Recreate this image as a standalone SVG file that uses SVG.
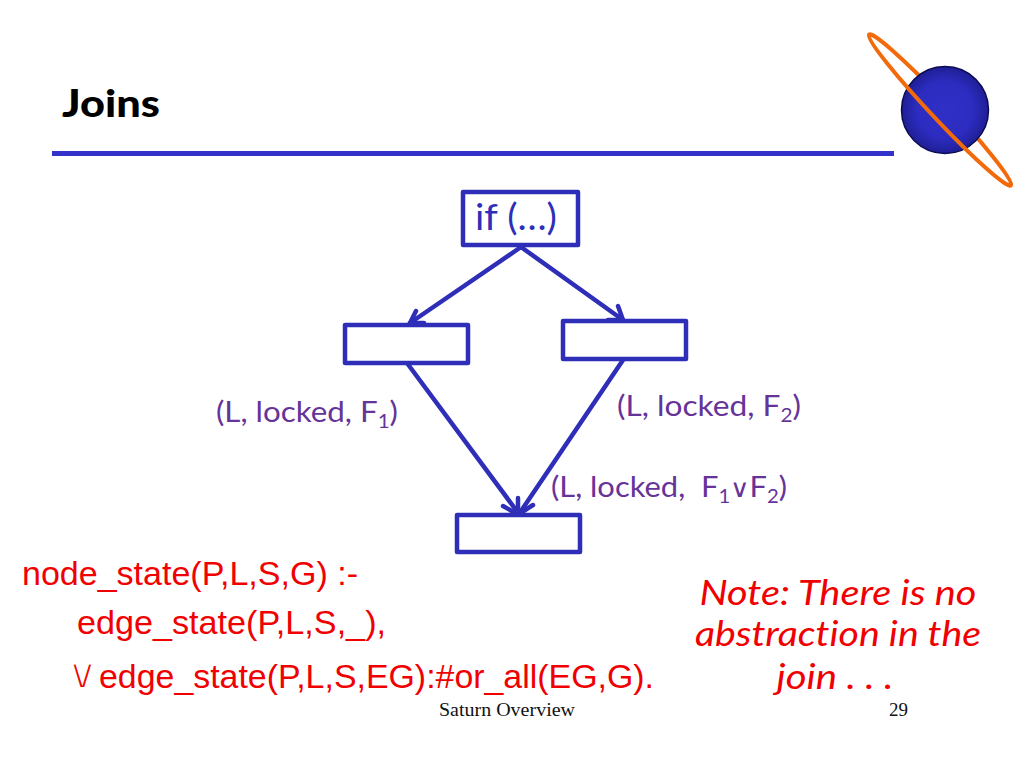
<svg xmlns="http://www.w3.org/2000/svg" width="1024" height="768" viewBox="0 0 1024 768">
<style>
.box{fill:#fff;stroke:#2e2eb8;stroke-width:4.5;stroke-linejoin:round}
.edge{fill:none;stroke:#2e2eb8;stroke-width:4.5;stroke-linecap:round;stroke-linejoin:round}
.ring{fill:none;stroke:#f26a0a;stroke-width:4}
.lab{font-family:"Lato","Open Sans",sans-serif;font-size:29px;fill:#663399;font-variant-ligatures:none}
.sub{font-size:19px}
.red{font-family:"Liberation Sans",Arial,sans-serif;font-size:33px;fill:#f00000}
.or{font-family:"DejaVu Sans",sans-serif;font-size:42px;stroke:#fff;stroke-width:1.8px}
.note{font-family:"Lato","Open Sans",sans-serif;font-style:italic;font-size:35px;fill:#f00000;text-anchor:middle;font-variant-ligatures:none}
.foot{font-family:"Liberation Serif","Times New Roman",serif;font-size:19px;fill:#111}
</style>
<defs>
<radialGradient id="pl" cx="50%" cy="50%" r="50%">
<stop offset="0" stop-color="#3030c8"/><stop offset=".65" stop-color="#2c2cc0"/><stop offset="1" stop-color="#1f1f96"/>
</radialGradient>
</defs>
<rect width="1024" height="768" fill="#fff"/>
<text id="title" x="62" y="117" font-family="Lato,'Open Sans',sans-serif" font-weight="900" font-size="37" fill="#000" textLength="98" lengthAdjust="spacingAndGlyphs">Joins</text>
<rect id="rule" x="52" y="151" width="842" height="5" fill="#3333cc"/>
<g id="saturn">
<path class="ring" d="M869 35A103 9 46.8 0 1 1011 185"/>
<circle cx="945" cy="110" r="43.5" fill="url(#pl)" stroke="#0c0c50" stroke-width="1.5"/>
<path class="ring" stroke-linecap="round" d="M869 35A103 9 46.8 0 0 1011 185"/>
</g>
<g id="connectors">
<path class="edge" d="M521 247L410 323M521 247L623 320M407 363L519 514M623 360L519 514"/>
<path class="edge" d="M410 323L416 311M410 323L424 323M623 320L618 306M623 320L608 320M517 514L503 506M518 514L518 498M519 514L533 505"/>
</g>
<g id="if"><rect class="box" x="463" y="192" width="115" height="53"/>
<text x="475" y="230" font-family="Lato,'Open Sans',sans-serif" font-size="36" fill="#2e2eb8" textLength="82" lengthAdjust="spacingAndGlyphs">if (…)</text></g>
<g id="left"><rect class="box" x="345" y="325" width="123" height="38"/></g>
<g id="right"><rect class="box" x="563" y="321" width="123" height="38"/></g>
<g id="join"><rect class="box" x="457" y="515" width="123" height="37"/></g>
<g id="labels">
<text class="lab" x="216" y="422" textLength="182" lengthAdjust="spacingAndGlyphs">(L, locked, F<tspan class="sub" dy="6">1</tspan><tspan dy="-6">)</tspan></text>
<text class="lab" x="617" y="416" textLength="184" lengthAdjust="spacingAndGlyphs">(L, locked, F<tspan class="sub" dy="6">2</tspan><tspan dy="-6">)</tspan></text>
<text class="lab" x="551" y="497" textLength="236" lengthAdjust="spacingAndGlyphs" xml:space="preserve">(L, locked,  F<tspan class="sub" dy="6">1</tspan><tspan dy="-6" font-size="25" font-family="DejaVu Sans" font-weight="200">∨</tspan>F<tspan class="sub" dy="6">2</tspan><tspan dy="-6">)</tspan></text>
</g>
<g id="code">
<text class="red" x="22" y="585" textLength="336" lengthAdjust="spacingAndGlyphs">node_state(P,L,S,G) :-</text>
<text class="red" x="77" y="634" textLength="309" lengthAdjust="spacingAndGlyphs">edge_state(P,L,S,_),</text>
<text class="red or" x="67" y="688">∨</text>
<text class="red" x="99" y="688" textLength="555" lengthAdjust="spacingAndGlyphs">edge_state(P,L,S,EG):#or_all(EG,G).</text>
</g>
<g id="note">
<text class="note" x="838" y="605" textLength="277" lengthAdjust="spacingAndGlyphs">Note: There is no</text>
<text class="note" x="838" y="646" textLength="286" lengthAdjust="spacingAndGlyphs">abstraction in the</text>
<text class="note" x="835" y="689" textLength="117" lengthAdjust="spacingAndGlyphs" xml:space="preserve">join . . .</text>
</g>
<text class="foot" x="439" y="716" textLength="136" lengthAdjust="spacingAndGlyphs">Saturn Overview</text>
<text class="foot" x="889" y="716">29</text>
</svg>
